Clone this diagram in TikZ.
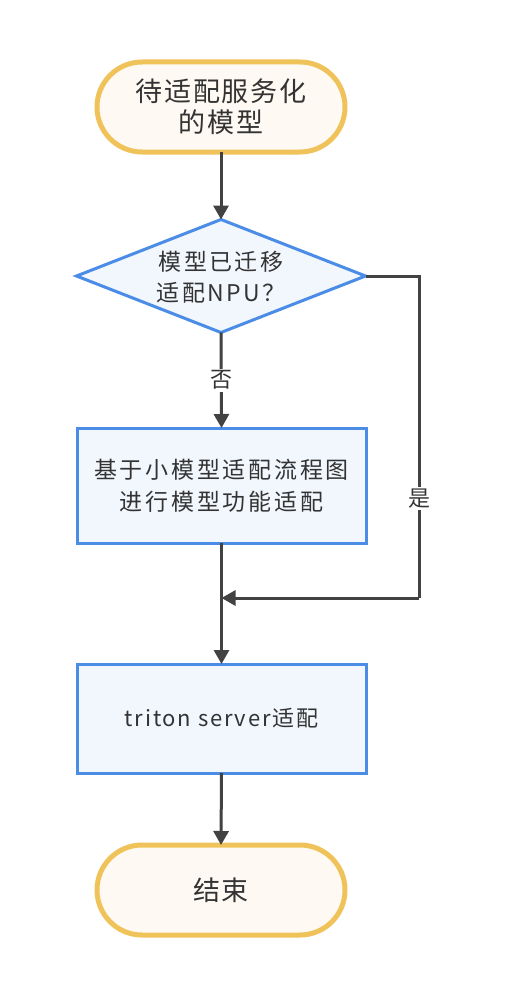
\documentclass[tikz,border=0pt]{standalone}
\usepackage{fontspec}
\setmainfont{Noto Sans CJK SC}
\usetikzlibrary{arrows.meta,shapes.geometric}
\definecolor{ystroke}{HTML}{F0C35A}
\definecolor{yfill}{HTML}{FEFAF3}
\definecolor{bstroke}{HTML}{4A8CE6}
\definecolor{bfill}{HTML}{F2F6FD}
\definecolor{lcol}{HTML}{424242}
\definecolor{tcol}{HTML}{333333}
\begin{document}
\begin{tikzpicture}[x=1pt,y=-1pt,
  term/.style={draw=ystroke,fill=yfill,line width=5pt,rectangle,rounded corners=45pt,minimum width=248pt,minimum height=90pt,inner sep=0pt,outer sep=0pt,align=center,text=tcol,font=\fontsize{27}{31}\selectfont\addfontfeature{LetterSpace=6}},
  procbox/.style={draw=bstroke,fill=bfill,line width=3pt,rectangle,minimum width=289pt,inner sep=0pt,outer sep=0pt,align=center,text=tcol,font=\fontsize{23}{32}\selectfont\addfontfeature{LetterSpace=12}},
  decision/.style={draw=bstroke,fill=bfill,line width=3pt,diamond,minimum width=289pt,minimum height=113pt,inner sep=0pt,outer sep=0pt},
  conn/.style={draw=lcol,line width=3pt,-{Triangle[length=14pt,width=15pt]}},
  plain/.style={draw=lcol,line width=3pt},
  lbl/.style={fill=white,text=tcol,inner sep=2pt,font=\fontsize{22}{26}\selectfont}
]
\useasboundingbox (0,0) rectangle (516,998);
\fill[white] (0,0) rectangle (516,998);
\node[term] (start) at (221,107) {待适配服务化\\的模型};
\node[decision] (dec) at (221,276) {};
\node[align=center,text=tcol,font=\fontsize{23}{31}\selectfont\addfontfeature{LetterSpace=10}] (dect) at (221,277) {模型已迁移\\适配NPU？};
\node[procbox,minimum height=115pt] (p1) at (221.5,485.5) {基于小模型适配流程图\\进行模型功能适配};
\node[procbox,minimum height=109pt,font=\fontsize{22}{31}\selectfont\addfontfeature{LetterSpace=8}] (p2) at (221.5,718.5) {triton server适配};
\node[term] (end) at (221,890) {结束};
\coordinate (rt) at (419,276);
\coordinate (rb) at (419,598);
\coordinate (mj) at (221.5,598);
\draw[conn] (start.south) -- (dec.north);
\draw[conn] (dec.south) -- node[lbl,pos=0.5] (no) {否} (p1.north);
\draw[plain] (dec.east) -- (rt) -- node[lbl,pos=0.69] (yes) {是} (rb);
\draw[conn] (rb) -- (mj);
\draw[conn] (p1.south) -- (p2.north);
\draw[conn] (p2.south) -- (end.north);
\end{tikzpicture}
\end{document}
